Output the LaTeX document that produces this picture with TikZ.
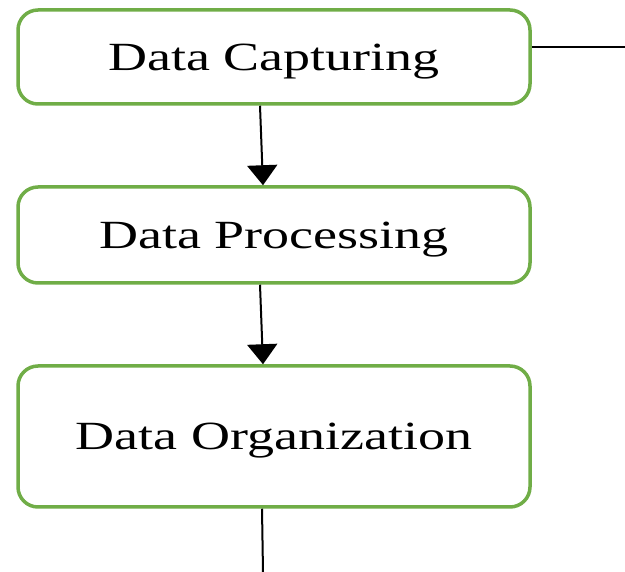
\documentclass[tikz,border=0pt]{standalone}
\usepackage{fontspec}
\setmainfont{Liberation Serif}
\usetikzlibrary{positioning,arrows.meta}
\definecolor{stagegreen}{HTML}{70AD47}
\newcommand{\widetext}[1]{\scalebox{1.35}[1]{#1}}
\tikzset{
 stage/.style={draw=stagegreen,line width=3.5pt,rounded corners=20pt,
  minimum width=512pt,inner sep=0pt,text height=27pt,text depth=0pt,
  font=\fontsize{40}{48}\selectfont},
 flow/.style={line width=2pt,-{Triangle[width=30pt,length=20pt]}},
 wire/.style={line width=2pt}
}
\begin{document}
\begin{tikzpicture}[x=1pt,y=1pt]
 \useasboundingbox (0,0) rectangle (625,-572);
 \node[stage,minimum height=94pt] (cap) at (274,-57) {\widetext{Data Capturing}};
 \node[stage,minimum height=96pt,below=79.5pt of cap] (proc) {\widetext{Data Processing}};
 \node[stage,minimum height=141pt,below=79.5pt of proc] (org) {\widetext{Data Organization}};
 \coordinate (outR) at (625,-47);
 \coordinate (outB) at (263,-572);
 \draw[flow] ([xshift=-14pt]cap.south) -- ([xshift=-11pt]proc.north);
 \draw[flow] ([xshift=-14pt]proc.south) -- ([xshift=-11pt]org.north);
 \draw[wire] ([yshift=10pt]cap.east) -- (outR);
 \draw[wire] ([xshift=-12pt]org.south) -- (outB);
\end{tikzpicture}
\end{document}
